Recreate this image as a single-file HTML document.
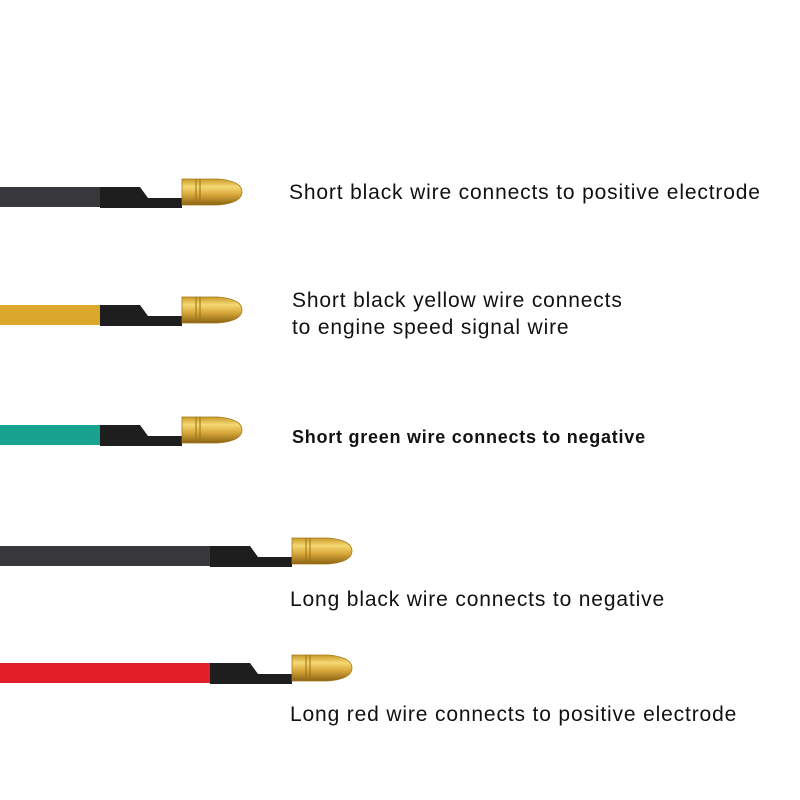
<!DOCTYPE html>
<html><head><meta charset="utf-8"><style>
body{margin:0;background:#fff;width:800px;height:800px;overflow:hidden;position:relative;font-family:"Liberation Sans",sans-serif;color:#111}
.t{position:absolute;font-size:21px;white-space:nowrap;line-height:27px;letter-spacing:0.85px}
svg{position:absolute;left:0;top:0}
</style></head><body>
<svg width="800" height="800" viewBox="0 0 800 800">
<defs>
<linearGradient id="gold" x1="0" y1="0" x2="0" y2="1">
<stop offset="0" stop-color="#c99a28"/><stop offset="0.3" stop-color="#f6d873"/><stop offset="0.6" stop-color="#d9a83a"/><stop offset="1" stop-color="#8a6414"/></linearGradient>
<g id="term">
<path d="M0,0 L40,0 L48,11 L82,11 L82,21 L0,21 Z" fill="#1e1e1e"/>
<path d="M82,-8 L118,-8 Q142,-6 142,5 Q142,16 118,18 L82,18 Z" fill="url(#gold)" stroke="#a47a1c" stroke-width="0.8"/>
<line x1="96" y1="-8" x2="96" y2="18" stroke="#9a6f15" stroke-width="1"/>
<line x1="100" y1="-8" x2="100" y2="18" stroke="#9a6f15" stroke-width="1"/>
</g>
</defs>
<rect x="0" y="187" width="101" height="20" fill="#38383c"/>
<use href="#term" transform="translate(100,187)"/>
<rect x="0" y="305" width="101" height="20" fill="#dca82c"/>
<use href="#term" transform="translate(100,305)"/>
<rect x="0" y="425" width="101" height="20" fill="#17a390"/>
<use href="#term" transform="translate(100,425)"/>
<rect x="0" y="546" width="211" height="20" fill="#38383c"/>
<use href="#term" transform="translate(210,546)"/>
<rect x="0" y="663" width="211" height="20" fill="#e21f28"/>
<use href="#term" transform="translate(210,663)"/>
</svg>
<div class="t" style="left:289px;top:179px">Short black wire connects to positive electrode</div>
<div class="t" style="left:292px;top:287px">Short black yellow wire connects<br>to engine speed signal wire</div>
<div class="t" style="left:292px;top:424px;font-size:18px;font-weight:bold;letter-spacing:0.75px">Short green wire connects to negative</div>
<div class="t" style="left:290px;top:586px">Long black wire connects to negative</div>
<div class="t" style="left:290px;top:701px">Long red wire connects to positive electrode</div>
</body></html>
